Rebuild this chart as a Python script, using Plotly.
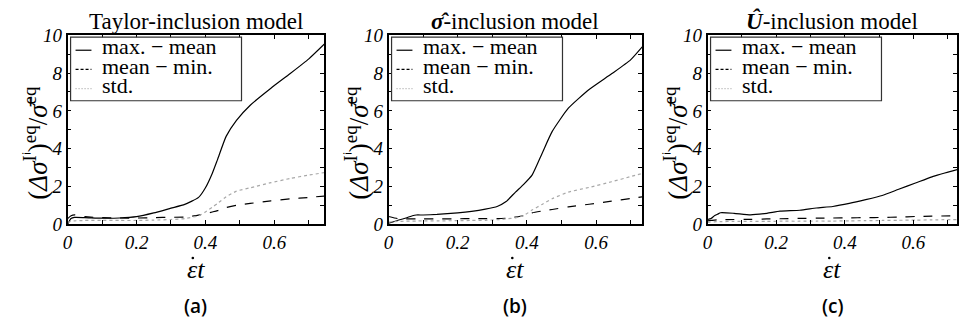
import plotly.graph_objects as go

# ---- data: normalised von Mises stress spread vs. strain (ε̇t) ----
# (a) Taylor-inclusion model
x_a = [0, 0.01, 0.02, 0.05, 0.1, 0.15, 0.2, 0.25, 0.3, 0.34, 0.38, 0.40, 0.42,
       0.435, 0.46, 0.49, 0.53, 0.59, 0.645, 0.70, 0.75]
maxmean_a = [0.0, 0.30, 0.36, 0.35, 0.32, 0.33, 0.40, 0.60, 0.85, 1.05, 1.42, 1.93, 2.70,
             3.42, 4.65, 5.50, 6.30, 7.20, 7.96, 8.75, 9.62]
meanmin_a = [0.30, 0.45, 0.50, 0.40, 0.35, 0.33, 0.33, 0.35, 0.37, 0.38, 0.48, 0.56, 0.65,
             0.72, 0.88, 1.00, 1.10, 1.24, 1.34, 1.42, 1.50]
std_a = [0.10, 0.15, 0.18, 0.20, 0.20, 0.20, 0.20, 0.22, 0.25, 0.30, 0.45, 0.65, 0.90,
         1.10, 1.45, 1.75, 1.93, 2.20, 2.42, 2.60, 2.75]

# (b) σ̂-inclusion model
x_b = [0, 0.026, 0.05, 0.069, 0.08, 0.1, 0.14, 0.2, 0.24, 0.28, 0.314, 0.34, 0.367,
       0.39, 0.415, 0.444, 0.473, 0.52, 0.58, 0.645, 0.70, 0.74]
maxmean_b = [0.05, 0.20, 0.33, 0.45, 0.49, 0.49, 0.52, 0.60, 0.68, 0.80, 0.94, 1.20, 1.70,
             2.10, 2.60, 3.75, 4.90, 6.14, 7.13, 7.96, 8.70, 9.52]
meanmin_b = [0.41, 0.30, 0.28, 0.28, 0.28, 0.28, 0.28, 0.29, 0.30, 0.30, 0.30, 0.32, 0.38,
             0.45, 0.60, 0.70, 0.78, 0.92, 1.06, 1.22, 1.36, 1.47]
std_b = [0.12, 0.15, 0.16, 0.17, 0.17, 0.18, 0.18, 0.19, 0.20, 0.21, 0.24, 0.28, 0.34,
         0.45, 0.75, 1.05, 1.35, 1.70, 1.95, 2.25, 2.52, 2.72]

# (c) Û-inclusion model
x_c = [0, 0.01, 0.02, 0.029, 0.038, 0.077, 0.125, 0.173, 0.211, 0.269, 0.317, 0.365,
       0.413, 0.461, 0.509, 0.557, 0.606, 0.654, 0.73]
maxmean_c = [0.25, 0.30, 0.45, 0.53, 0.61, 0.58, 0.50, 0.58, 0.69, 0.74, 0.86, 0.94,
             1.10, 1.30, 1.52, 1.85, 2.18, 2.51, 2.90]
meanmin_c = [0.18, 0.20, 0.22, 0.23, 0.24, 0.25, 0.26, 0.28, 0.29, 0.31, 0.32, 0.33,
             0.34, 0.35, 0.36, 0.38, 0.41, 0.43, 0.45]
std_c = [0.10, 0.12, 0.13, 0.14, 0.14, 0.15, 0.15, 0.15, 0.16, 0.16, 0.17, 0.17,
         0.18, 0.19, 0.20, 0.21, 0.22, 0.23, 0.25]

series_names = ["max. − mean", "mean − min.", "std."]
panel_titles = ["Taylor-inclusion model",
                "<b><i>σ̂</i></b>-inclusion model",
                "<b><i>Û</i></b>-inclusion model"]
panel_tags = ["(a)", "(b)", "(c)"]
x_tick_vals = [0, 0.2, 0.4, 0.6]
x_tick_text = ["0", "0.2", "0.4", "0.6"]
y_tick_vals = [0, 2, 4, 6, 8, 10]
y_tick_text = ["0", "2", "4", "6", "8", "10"]
x_max = [0.744, 0.733, 0.727]

panels = [
    (x_a, [maxmean_a, meanmin_a, std_a]),
    (x_b, [maxmean_b, meanmin_b, std_b]),
    (x_c, [maxmean_c, meanmin_c, std_c]),
]

W, H = 959, 326
x_domains = [(63, 321), (386, 641), (707, 958)]   # pixel extents of the plot frames
y_top, y_bot = 27, 229

line_styles = [
    dict(color="black", width=1.2, dash="solid"),
    dict(color="black", width=1.2, dash="dash"),
    dict(color="#a8a8a8", width=1.2, dash="dot"),
]
sample_dash = {"solid": "solid", "dash": "3px,2px", "dot": "1px,2px"}

SERIF = "Liberation Serif"


def px(x):
    return x / W


def py(y):
    return 1 - y / H


fig = go.Figure()
annotations = []
shapes = []

for i, (xs, ys_list) in enumerate(panels):
    xa = "x" if i == 0 else f"x{i+1}"
    ya = "y" if i == 0 else f"y{i+1}"
    for name, ys, style in zip(series_names, ys_list, line_styles):
        fig.add_trace(go.Scatter(
            x=xs, y=ys, mode="lines", name=name,
            line=dict(shape="spline", smoothing=0.5, **style),
            xaxis=xa, yaxis=ya, showlegend=False,
        ))

    x0, x1 = x_domains[i]
    axis_common = dict(
        showline=True, linecolor="black", linewidth=1.5, mirror="ticks",
        ticks="inside", ticklen=4, tickwidth=1, tickcolor="black",
        showgrid=False, zeroline=False,
        tickfont=dict(family=SERIF, size=19, color="black"),
    )
    fig.layout[f"xaxis{'' if i == 0 else i+1}"] = dict(
        domain=[px(x0), px(x1)], range=[0, x_max[i]], anchor=ya,
        tickvals=x_tick_vals, ticktext=[f"<i>{t}</i>" for t in x_tick_text],
        minor=dict(dtick=0.1, tick0=0, ticks="inside", ticklen=4, tickcolor="black"),
        **axis_common,
    )
    fig.layout[f"yaxis{'' if i == 0 else i+1}"] = dict(
        domain=[py(y_bot), py(y_top)], range=[0, 10], anchor=xa,
        tickvals=y_tick_vals, ticktext=[f"<i>{t}</i>" for t in y_tick_text],
        minor=dict(dtick=1, tick0=0, ticks="inside", ticklen=4, tickcolor="black"),
        **axis_common,
    )

    xc = (x0 + x1) / 2
    # panel title
    annotations.append(dict(text=panel_titles[i], x=px(xc), y=py(12), xref="paper", yref="paper",
                            showarrow=False, xanchor="center", yanchor="middle",
                            font=dict(family=SERIF, size=23, color="black")))
    # x-axis title: εt, with the time-derivative dot drawn over the ε
    annotations.append(dict(text="<i>εt</i>", x=px(xc), y=py(277), xref="paper", yref="paper",
                            showarrow=False, xanchor="center", yanchor="middle",
                            font=dict(family=SERIF, size=26, color="black")))
    shapes.append(dict(type="circle", xref="paper", yref="paper",
                       x0=px(xc - 4.3), x1=px(xc - 1.7), y0=py(266.3), y1=py(263.7),
                       fillcolor="black", line=dict(width=0)))
    # sub-figure tag
    annotations.append(dict(text=panel_tags[i], x=px(xc), y=py(316), xref="paper", yref="paper",
                            showarrow=False, xanchor="center", yanchor="middle",
                            font=dict(family="Open Sans", size=19, color="black", weight=600)))
    # y-axis title
    annotations.append(dict(text="(<i>Δσ</i><sup>Iⁱ</sup>)<sup>eq</sup>/<i>σ̄</i><sup>eq</sup>",
                            x=px(x0 - 32), y=py(142), xref="paper", yref="paper",
                            showarrow=False, xanchor="center", yanchor="middle", textangle=-90,
                            font=dict(family=SERIF, size=27, color="black")))

    # legend box with short line samples
    lx0, ly0 = x0 + 3, y_top + 2
    shapes.append(dict(type="rect", xref="paper", yref="paper",
                       x0=px(lx0), x1=px(lx0 + 172), y0=py(ly0), y1=py(ly0 + 68),
                       line=dict(color="#333", width=1.2), fillcolor="white", layer="above"))
    for k, (name, style) in enumerate(zip(series_names, line_styles)):
        yk = ly0 + 14 + 20.5 * k
        shapes.append(dict(type="line", xref="paper", yref="paper",
                           x0=px(lx0 + 5), x1=px(lx0 + 21), y0=py(yk), y1=py(yk),
                           line=dict(color=style["color"], width=1.2,
                                     dash=sample_dash[style["dash"]]),
                           layer="above"))
        annotations.append(dict(text=name, x=px(lx0 + 30), y=py(yk - 4), xref="paper", yref="paper",
                                showarrow=False, xanchor="left", yanchor="middle",
                                height=20, valign="middle",
                                font=dict(family=SERIF, size=22, color="black")))

fig.update_layout(
    width=W, height=H, margin=dict(l=0, r=0, t=0, b=0),
    paper_bgcolor="white", plot_bgcolor="white",
    annotations=annotations, shapes=shapes,
)

fig.write_html("out.html")
